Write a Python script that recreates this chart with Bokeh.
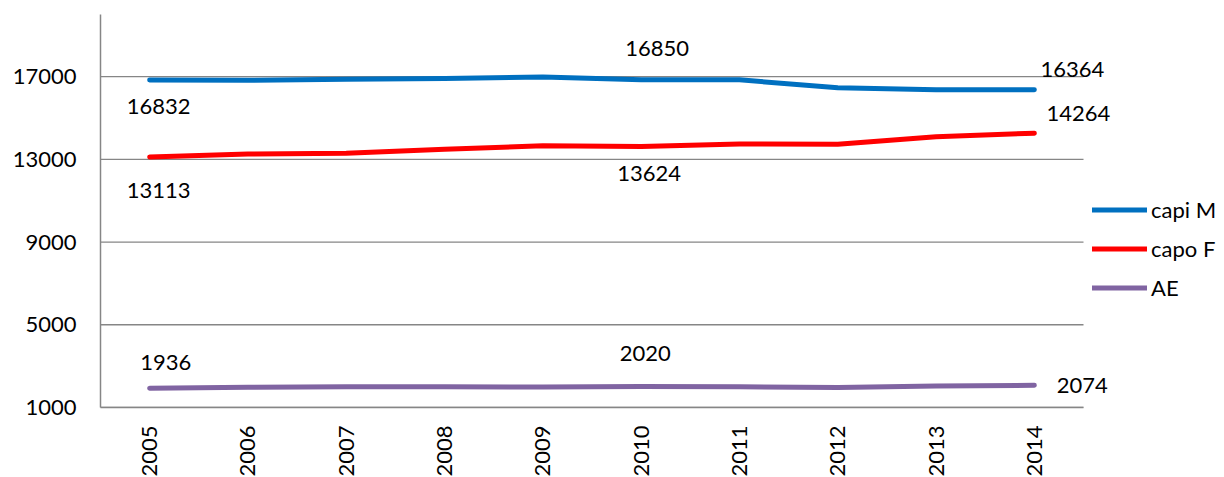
from bokeh.plotting import figure
from bokeh.models import ColumnDataSource, FixedTicker, Legend, LegendItem, Range1d, LabelSet
from bokeh.core.properties import value
from bokeh.embed import file_html
from bokeh.resources import INLINE

years = [2005, 2006, 2007, 2008, 2009, 2010, 2011, 2012, 2013, 2014]
capi_m = [16832, 16820, 16870, 16900, 16980, 16850, 16840, 16455, 16360, 16364]
capo_f = [13113, 13255, 13290, 13480, 13655, 13624, 13740, 13730, 14090, 14264]
ae = [1936, 1980, 2000, 2000, 1990, 2020, 2000, 1970, 2040, 2074]
y_ticks = [1000, 5000, 9000, 13000, 17000]

# data labels shown in the chart (year, value)
label_years = [2005, 2005, 2005, 2010, 2010, 2010, 2014, 2014, 2014]
label_vals = [16832, 13113, 1936, 16850, 13624, 2020, 16364, 14264, 2074]
# pixel offsets of label centres from their points (style only; +y is up)
label_dx = [9, 9, 16, 16, 8, 4, 38, 44, 48]
label_dy = [-26, -34, 26, 31, -27, 33, 20, 20, 0]

FONT = "Lato"
FS = "22px"
GRID = "#868686"

LEFT, TOP, FW, FH, BOTTOM = 100, 14, 1124, 393, 70
CAT_W = 98.3  # px per category band
x_start = years[0] - 0.5
x_end = x_start + FW / CAT_W

p = figure(frame_width=FW, frame_height=FH, output_backend="svg", toolbar_location=None,
           x_range=Range1d(x_start, x_end), y_range=Range1d(1000, 20000),
           min_border_left=LEFT, min_border_right=0, min_border_top=TOP, min_border_bottom=BOTTOM)
p.outline_line_color = None
p.background_fill_color = "white"
p.border_fill_color = "white"
p.xgrid.grid_line_color = None
p.ygrid.grid_line_color = None

# horizontal gridlines limited to the category area
p.segment(x0=[years[0] - 0.5] * len(y_ticks), x1=[years[-1] + 0.5] * len(y_ticks),
          y0=y_ticks, y1=y_ticks, line_color=GRID, line_width=1.3)

p.yaxis.ticker = FixedTicker(ticks=y_ticks)
p.yaxis.axis_line_color = GRID
p.yaxis.axis_line_width = 1.5
p.yaxis.major_tick_line_color = None
p.yaxis.minor_tick_line_color = None
p.yaxis.major_tick_out = 0
p.yaxis.major_tick_in = 0
p.yaxis.minor_tick_out = 0
p.yaxis.major_label_standoff = 24
p.yaxis.major_label_text_font = FONT
p.yaxis.major_label_text_font_size = FS
p.yaxis.major_label_text_color = "black"

p.xaxis.ticker = FixedTicker(ticks=years)
p.xaxis.bounds = (years[0] - 0.5, years[-1] + 0.5)
p.xaxis.axis_line_color = GRID
p.xaxis.axis_line_width = 1.5
p.xaxis.major_tick_line_color = None
p.xaxis.minor_tick_line_color = None
p.xaxis.major_tick_out = 0
p.xaxis.major_tick_in = 0
p.xaxis.minor_tick_out = 0
p.xaxis.major_label_orientation = 1.5708
p.xaxis.major_label_standoff = 18
p.xaxis.major_label_text_font = FONT
p.xaxis.major_label_text_font_size = FS
p.xaxis.major_label_text_color = "black"

src = ColumnDataSource(dict(x=years, m=capi_m, f=capo_f, ae=ae))
r1 = p.line("x", "m", source=src, line_color="#0070C0", line_width=5, line_cap="round", line_join="round")
r2 = p.line("x", "f", source=src, line_color="#FF0000", line_width=5, line_cap="round", line_join="round")
r3 = p.line("x", "ae", source=src, line_color="#8064A2", line_width=5, line_cap="round", line_join="round")

lsrc = ColumnDataSource(dict(x=label_years, y=label_vals, t=[str(v) for v in label_vals],
                             dx=label_dx, dy=label_dy))
labels = LabelSet(x="x", y="y", text="t", source=lsrc, x_offset="dx", y_offset="dy",
                  text_align="center", text_baseline="middle",
                  text_font=value(FONT), text_font_size=value(FS), text_color="black")
p.add_layout(labels)

legend = Legend(items=[LegendItem(label="capi M", renderers=[r1]),
                       LegendItem(label="capo F", renderers=[r2]),
                       LegendItem(label="AE", renderers=[r3])],
                location=(992, 100), orientation="vertical",
                glyph_width=55, glyph_height=39, label_height=39, spacing=0,
                label_standoff=4, padding=0, margin=0,
                border_line_color=None, background_fill_alpha=0,
                label_text_font=FONT, label_text_font_size=FS, label_text_color="black")
p.add_layout(legend, "center")

open("out.html", "w").write(file_html(p, INLINE))
